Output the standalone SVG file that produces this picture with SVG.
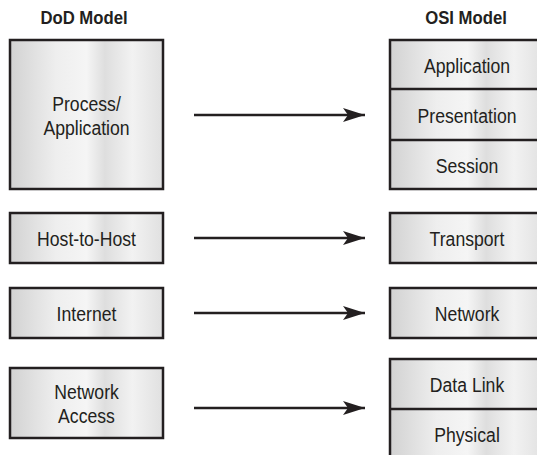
<svg xmlns="http://www.w3.org/2000/svg" width="537" height="455" viewBox="0 0 537 455">
<defs>
<linearGradient id="g" x1="0" y1="0" x2="1" y2="0">
<stop offset="0" stop-color="#d2d2d2"/>
<stop offset="0.3" stop-color="#eeeeee"/>
<stop offset="0.5" stop-color="#f5f5f5"/>
<stop offset="0.62" stop-color="#dedede"/>
<stop offset="0.8" stop-color="#f2f2f2"/>
<stop offset="1" stop-color="#e0e0e0"/>
</linearGradient>
<marker id="ah" viewBox="0 0 22 14" refX="22" refY="7" markerWidth="22" markerHeight="14" markerUnits="userSpaceOnUse" orient="auto">
<path d="M0,0 L22,7 L0,14 L5,7 Z" fill="#231f20"/>
</marker>
</defs>
<style>
.box{fill:url(#g);stroke:#231f20;stroke-width:2.5}
.sep{stroke:#231f20;stroke-width:2.5}
.t{font-family:"Liberation Sans",Arial,sans-serif;font-size:21px;fill:#231f20;text-anchor:middle}
.h{font-family:"Liberation Sans",Arial,sans-serif;font-size:19px;font-weight:bold;fill:#231f20;text-anchor:middle}
.c{stroke:#231f20;stroke-width:2.5;fill:none}
</style>
<g id="titles">
<text class="h" transform="translate(84,24) scale(0.88,1)">DoD Model</text>
<text class="h" transform="translate(466,24) scale(0.88,1)">OSI Model</text>
</g>
<g id="dod-process">
<rect class="box" x="10" y="40" width="153" height="149"/>
<text class="t" transform="translate(86.5,111) scale(0.84,1)">Process/</text>
<text class="t" transform="translate(86.5,135) scale(0.84,1)">Application</text>
</g>
<g id="dod-host">
<rect class="box" x="10" y="213" width="153" height="50"/>
<text class="t" transform="translate(86.5,246) scale(0.84,1)">Host-to-Host</text>
</g>
<g id="dod-internet">
<rect class="box" x="10" y="288" width="153" height="50"/>
<text class="t" transform="translate(86.5,321) scale(0.84,1)">Internet</text>
</g>
<g id="dod-netaccess">
<rect class="box" x="10" y="368" width="153" height="70"/>
<text class="t" transform="translate(86.5,399) scale(0.84,1)">Network</text>
<text class="t" transform="translate(86.5,423) scale(0.84,1)">Access</text>
</g>
<g id="osi-upper">
<rect class="box" x="390" y="40" width="155" height="149"/>
<line class="sep" x1="390" y1="89" x2="545" y2="89"/>
<line class="sep" x1="390" y1="140" x2="545" y2="140"/>
<text class="t" transform="translate(467,73) scale(0.84,1)">Application</text>
<text class="t" transform="translate(467,123) scale(0.84,1)">Presentation</text>
<text class="t" transform="translate(467,173) scale(0.84,1)">Session</text>
</g>
<g id="osi-transport">
<rect class="box" x="390" y="213" width="155" height="50"/>
<text class="t" transform="translate(467,246) scale(0.84,1)">Transport</text>
</g>
<g id="osi-network">
<rect class="box" x="390" y="288" width="155" height="50"/>
<text class="t" transform="translate(467,321) scale(0.84,1)">Network</text>
</g>
<g id="osi-lower">
<rect class="box" x="390" y="359" width="155" height="105"/>
<line class="sep" x1="390" y1="409" x2="545" y2="409"/>
<text class="t" transform="translate(467,392) scale(0.84,1)">Data Link</text>
<text class="t" transform="translate(467,442) scale(0.84,1)">Physical</text>
</g>
<g id="connectors">
<line class="c" x1="194" y1="115" x2="365" y2="115" marker-end="url(#ah)"/>
<line class="c" x1="194" y1="238" x2="365" y2="238" marker-end="url(#ah)"/>
<line class="c" x1="194" y1="313" x2="365" y2="313" marker-end="url(#ah)"/>
<line class="c" x1="194" y1="408" x2="365" y2="408" marker-end="url(#ah)"/>
</g>
</svg>
